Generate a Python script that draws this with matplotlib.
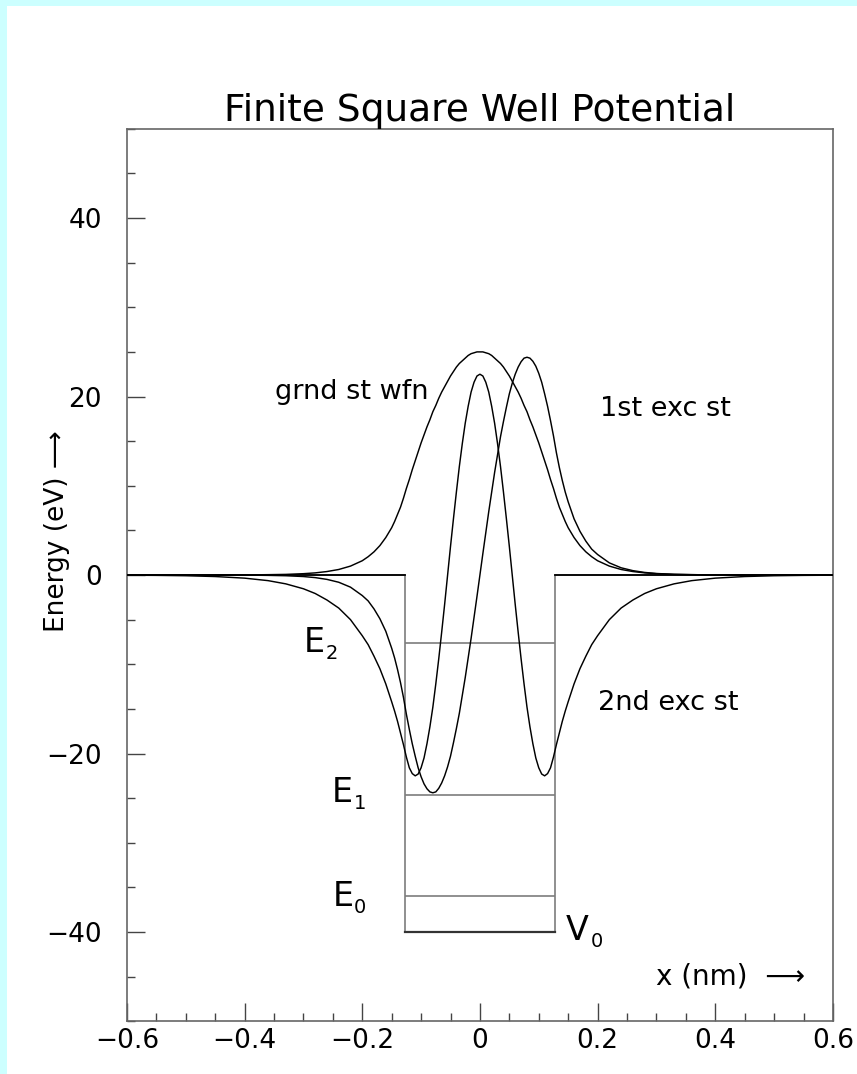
import matplotlib
matplotlib.use("Agg")
import matplotlib.pyplot as plt
from matplotlib.patches import Rectangle
from matplotlib.ticker import MultipleLocator

# positions along the well (nm), shared by the three wavefunctions
x_nm = [-0.60, -0.55, -0.50, -0.45, -0.40, -0.36, -0.33, -0.30, -0.28, -0.26, -0.24,
        -0.22, -0.20, -0.19, -0.18, -0.17, -0.16, -0.15, -0.145, -0.14, -0.135, -0.13,
        -0.125, -0.12, -0.115, -0.11, -0.105, -0.10, -0.095, -0.09, -0.085, -0.08,
        -0.075, -0.07, -0.065, -0.06, -0.055, -0.05, -0.045, -0.04, -0.035, -0.03,
        -0.025, -0.02, -0.015, -0.01, -0.005,
        0.0,
        0.005, 0.01, 0.015, 0.02, 0.025, 0.03, 0.035, 0.04, 0.045, 0.05, 0.055, 0.06,
        0.065, 0.07, 0.075, 0.08, 0.085, 0.09, 0.095, 0.10, 0.105, 0.11, 0.115, 0.12,
        0.125,
        0.13, 0.135, 0.14, 0.145, 0.15, 0.16, 0.17, 0.18, 0.19, 0.20, 0.22, 0.24, 0.26,
        0.28, 0.30, 0.33, 0.36, 0.40, 0.45, 0.50, 0.55, 0.60]

# ground state wavefunction (drawn on the 0 eV baseline)
psi_ground = [0.0, 0.0, 0.0, 0.0, 0.01, 0.04, 0.07, 0.15, 0.24, 0.39, 0.62,
              1.0, 1.6, 2.05, 2.6, 3.3, 4.2, 5.3, 6.0, 6.8, 7.6, 8.6,
              9.7, 10.7, 11.8, 12.8, 13.8, 14.8, 15.7, 16.6, 17.4, 18.3,
              19.0, 19.8, 20.5, 21.1, 21.7, 22.3, 22.8, 23.3, 23.7, 24.0,
              24.3, 24.6, 24.8, 24.9, 25.0,
              25.0,
              25.0, 24.9, 24.8, 24.6, 24.3, 24.0, 23.7, 23.3, 22.8, 22.3, 21.7, 21.1,
              20.5, 19.8, 19.0, 18.3, 17.4, 16.6, 15.7, 14.8, 13.8, 12.8, 11.8, 10.7,
              9.7,
              8.6, 7.6, 6.8, 6.0, 5.3, 4.2, 3.3, 2.6, 2.05, 1.6, 1.0, 0.62, 0.39,
              0.24, 0.15, 0.07, 0.04, 0.01, 0.0, 0.0, 0.0, 0.0]

# first excited state
psi_first = [0.0, 0.0, 0.0, 0.0, -0.01, -0.04, -0.08, -0.17, -0.29, -0.49, -0.81,
             -1.36, -2.3, -2.9, -3.8, -4.9, -6.3, -8.2, -9.3, -10.6, -12.05, -13.7,
             -15.6, -17.3, -18.9, -20.3, -21.6, -22.6, -23.4, -23.95, -24.3, -24.4,
             -24.3, -23.9, -23.3, -22.5, -21.5, -20.3, -18.8, -17.2, -15.5, -13.5,
             -11.5, -9.3, -7.1, -4.75, -2.4,
             0.0,
             2.4, 4.75, 7.1, 9.3, 11.5, 13.5, 15.5, 17.2, 18.8, 20.3, 21.5, 22.5,
             23.3, 23.9, 24.3, 24.4, 24.3, 23.95, 23.4, 22.6, 21.6, 20.3, 18.9, 17.3,
             15.6,
             13.7, 12.05, 10.6, 9.3, 8.2, 6.3, 4.9, 3.8, 2.9, 2.3, 1.36, 0.81, 0.49,
             0.29, 0.17, 0.08, 0.04, 0.01, 0.0, 0.0, 0.0, 0.0]

# second excited state
psi_second = [-0.02, -0.04, -0.08, -0.17, -0.35, -0.63, -0.99, -1.54, -2.07, -2.8, -3.7,
              -5.0, -6.8, -7.8, -9.1, -10.5, -12.2, -14.2, -15.25, -16.4, -17.7, -19.0,
              -20.4, -21.6, -22.25, -22.5, -22.3, -21.6, -20.5, -18.9, -17.0, -14.8,
              -12.2, -9.4, -6.4, -3.3, -0.05, 3.2, 6.3, 9.3, 12.15, 14.7,
              17.0, 18.9, 20.5, 21.6, 22.3,
              22.5,
              22.3, 21.6, 20.5, 18.9, 17.0, 14.7, 12.15, 9.3, 6.3, 3.2, -0.05, -3.3,
              -6.4, -9.4, -12.2, -14.8, -17.0, -18.9, -20.5, -21.6, -22.3, -22.5, -22.25, -21.6,
              -20.4,
              -19.0, -17.7, -16.4, -15.25, -14.2, -12.2, -10.5, -9.1, -7.8, -6.8, -5.0, -3.7, -2.8,
              -2.07, -1.54, -0.99, -0.63, -0.35, -0.17, -0.08, -0.04, -0.02]

# square well potential (eV) and bound state energies
well_x = [-0.6, -0.127, -0.127, 0.127, 0.127, 0.6]
well_v = [0.0, 0.0, -40.0, -40.0, 0.0, 0.0]
level_e = [-36.0, -24.6, -7.6]
level_names = ["0", "1", "2"]

xtick_vals = [-0.6, -0.4, -0.2, 0.0, 0.2, 0.4, 0.6]
xtick_text = ["\u22120.6", "\u22120.4", "\u22120.2", "0", "0.2", "0.4", "0.6"]
ytick_vals = [-40, -20, 0, 20, 40]
ytick_text = ["\u221240", "\u221220", "0", "20", "40"]

plt.rcParams['font.family'] = ['DejaVu Sans']

fig = plt.figure(figsize=(8.57, 10.74), dpi=100)
fig.patch.set_facecolor('#ccffff')
fig.add_artist(Rectangle((7 / 857, 0), 1, 1 - 6 / 1074, transform=fig.transFigure,
                         facecolor='white', edgecolor='none', zorder=0))

ax = fig.add_axes([0.1481, 0.0491, 0.8238, 0.8310])
ax.set_xlim(-0.6, 0.6)
ax.set_ylim(-50, 50)

# potential: walls and levels in grey, floor darker
ax.plot(well_x, well_v, color='#7d7d7d', lw=1.2, zorder=2)
ax.plot(well_x[2:4], well_v[2:4], color='#333333', lw=1.6, zorder=2)
ax.plot(well_x[:2], well_v[:2], color='black', lw=1.3, zorder=2)
ax.plot(well_x[4:], well_v[4:], color='black', lw=1.3, zorder=2)
ax.hlines(level_e, well_x[1], well_x[3], color='#7d7d7d', lw=1.2, zorder=2)

for psi in (psi_ground, psi_first, psi_second):
    ax.plot(x_nm, psi, color='black', lw=1.05, zorder=3)

# state labels
ax.text(-0.3484, 19.7, "grnd st wfn", fontsize=19.5, va='baseline')
ax.text(0.204, 17.8, "1st exc st", fontsize=19.5, va='baseline')
ax.text(0.2005, -15.1, "2nd exc st", fontsize=19.5, va='baseline')

# E_n labels with small subscripts
lab_pos = [(-0.250, -37.1), (-0.251, -25.4), (-0.299, -8.6)]
for (lx, ly), name in zip(lab_pos, level_names):
    ax.text(lx, ly, "E", fontsize=24, va='baseline')
    ax.text(lx + 0.036, ly - 0.8, name, fontsize=14, va='baseline')
ax.text(0.146, -40.9, "V", fontsize=24, va='baseline')
ax.text(0.188, -41.7, "0", fontsize=14, va='baseline')

ax.text(0.3, -45.0, "x (nm)  \u27f6", fontsize=20, va='center', ha='left')
ax.text(-0.099, 0.549, "Energy (eV) \u27f6", fontsize=19, rotation=90,
        transform=ax.transAxes, ha='center', va='center')

ax.set_title("Finite Square Well Potential", fontsize=27, pad=3)

ax.set_xticks(xtick_vals)
ax.set_xticklabels(xtick_text)
ax.set_yticks(ytick_vals)
ax.set_yticklabels(ytick_text)
ax.xaxis.set_minor_locator(MultipleLocator(0.05))
ax.yaxis.set_minor_locator(MultipleLocator(5))
ax.tick_params(which='both', direction='in', top=False, right=False,
               color='#444444', width=1.0)
ax.tick_params(which='major', length=13, labelsize=19)
ax.tick_params(which='minor', length=6)
ax.tick_params(axis='x', which='major', pad=5)
ax.tick_params(axis='y', which='major', pad=18)
for sp in ax.spines.values():
    sp.set_color('#666666')
    sp.set_linewidth(1.2)

fig.savefig("out.png", dpi=100)
